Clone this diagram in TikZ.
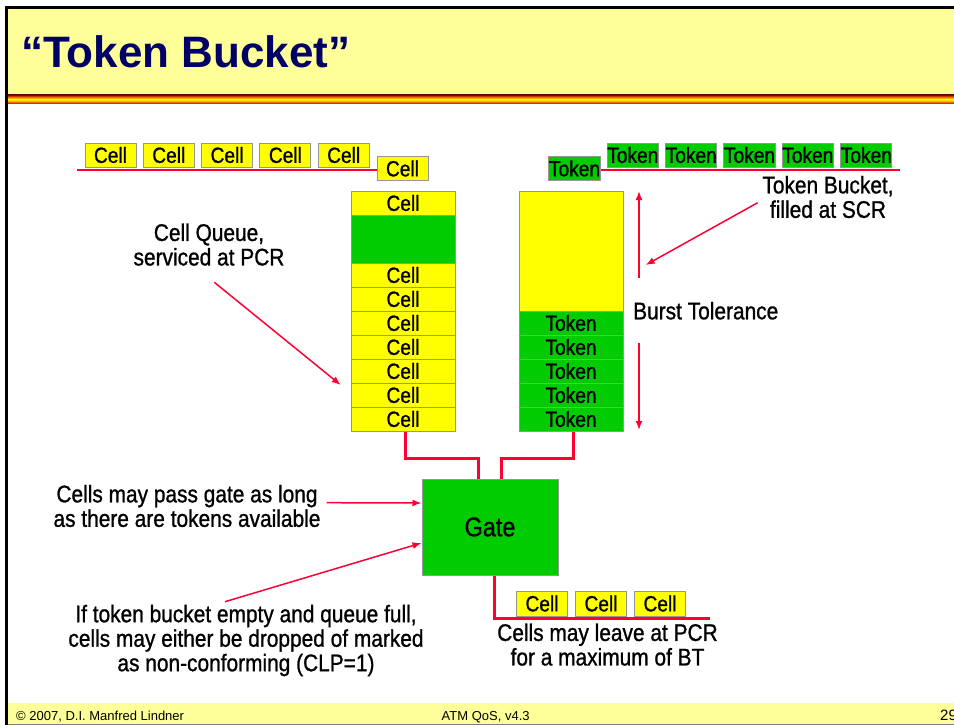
\documentclass[tikz,border=0pt]{standalone}
\usepackage{fontspec}
\setmainfont{Liberation Sans}
\newfontfamily\narrowfont[FakeStretch=0.87,FakeBold=1]{Liberation Sans}
\usetikzlibrary{arrows.meta}
\definecolor{amarelo}{RGB}{255,255,0}
\definecolor{verde}{RGB}{0,204,0}
\definecolor{vermelho}{RGB}{255,0,51}
\definecolor{palido}{RGB}{255,255,153}
\definecolor{marinho}{RGB}{0,0,102}
\definecolor{borda}{RGB}{150,150,150}
\definecolor{escuro}{RGB}{150,0,0}

\begin{document}
\begin{tikzpicture}[x=1pt,y=-1pt,
    cel/.style={draw=borda,fill=amarelo,line width=1pt,inner sep=0pt,minimum width=51pt,minimum height=24pt,font=\narrowfont\fontsize{22}{22}\selectfont},
    tok/.style={cel,fill=verde},
    fila/.style={cel,minimum width=104pt},
    balde/.style={fila,fill=verde},
    txt/.style={align=center,inner sep=0pt,font=\narrowfont\fontsize{24}{24.5}\selectfont},
    linha/.style={draw=vermelho,line width=3pt},
    seta/.style={draw=vermelho,line width=1.5pt,-{Latex[length=9pt,width=7pt]}}]
        \useasboundingbox (0,0) rectangle (954,725);
        % Moldura do slide
        \fill[palido] (8,9.5) rectangle (954,95);
        \shade[top color=escuro,bottom color=amarelo,middle color=orange] (8,95) rectangle (954,99.5);
        \shade[top color=amarelo,bottom color=escuro,middle color=orange] (8,99.5) rectangle (954,104);
        \fill[palido] (8,703) rectangle (954,725);
        \draw[gray,line width=1pt] (8,724.5) -- (954,724.5);
        \draw[line width=3pt] (5,8) -- (954,8);
        \draw[line width=3pt] (6.5,6.5) -- (6.5,725);
        \node[anchor=base west,inner sep=0pt,text=marinho,font=\bfseries\fontsize{44}{44}\selectfont] (titulo) at (21,68) {“Token Bucket”};
        \node[anchor=base west,inner sep=0pt,font=\fontsize{13}{13}\selectfont] (autor) at (16,720) {© 2007, D.I. Manfred Lindner};
        \node[anchor=base west,inner sep=0pt,font=\fontsize{13}{13}\selectfont] (versao) at (441.5,720) {ATM QoS, v4.3};
        \node[anchor=base west,inner sep=0pt,font=\fontsize{15}{15}\selectfont] (pagina) at (940,720) {29};
        % Celulas chegando
        \draw[linha,line width=2.5pt] (77,170) -- (377,170);
        \node[cel] (c1) at (110.5,155) {Cell};
        \node[cel] (c2) at (168.8,155) {Cell};
        \node[cel] (c3) at (227.1,155) {Cell};
        \node[cel] (c4) at (285.4,155) {Cell};
        \node[cel] (c5) at (343.7,155) {Cell};
        \node[cel] (c6) at (402.5,168.5) {Cell};
        % Fichas chegando
        \draw[linha,line width=2.5pt] (600,170) -- (900,170);
        \node[tok] (k1) at (574.5,168.5) {Token};
        \node[tok] (k2) at (632.8,155) {Token};
        \node[tok] (k3) at (691.2,155) {Token};
        \node[tok] (k4) at (749.5,155) {Token};
        \node[tok] (k5) at (807.8,155) {Token};
        \node[tok] (k6) at (866.3,155) {Token};
        % Fila de celulas
        \node[fila] (q1) at (403,203) {Cell};
        \node[balde,minimum height=48pt] (q2) at (403,239) {};
        \node[fila] (q3) at (403,275) {Cell};
        \node[fila] (q4) at (403,299) {Cell};
        \node[fila] (q5) at (403,323) {Cell};
        \node[fila] (q6) at (403,347) {Cell};
        \node[fila] (q7) at (403,371) {Cell};
        \node[fila] (q8) at (403,395) {Cell};
        \node[fila] (q9) at (403,419) {Cell};
        % Balde de fichas
        \node[fila,minimum height=120pt] (b0) at (571,251) {};
        \node[balde] (t1) at (571,323) {Token};
        \node[balde] (t2) at (571,347) {Token};
        \node[balde] (t3) at (571,371) {Token};
        \node[balde] (t4) at (571,395) {Token};
        \node[balde] (t5) at (571,419) {Token};
        % Portao
        \node[draw=borda,fill=verde,line width=1pt,minimum width=136pt,minimum height=96pt,font=\narrowfont\fontsize{27}{27}\selectfont] (gate) at (490,527) {Gate};
        \draw[linha] ([xshift=2.5pt]q9.south) -- ++(0,27) -| ([xshift=-12pt]gate.north);
        \draw[linha] ([xshift=2pt]t5.south) -- ++(0,27) -| ([xshift=11pt]gate.north);
        \coordinate (saida) at (710,618);
        \draw[linha] ([xshift=4pt]gate.south) |- (saida);
        \node[cel,minimum height=25pt] (o1) at (542,603.5) {Cell};
        \node[cel,minimum height=25pt] (o2) at (601,603.5) {Cell};
        \node[cel,minimum height=25pt] (o3) at (660,603.5) {Cell};
        % Textos
        \node[txt] (fila) at (209,244.6) {Cell Queue,\\serviced at PCR};
        \node[txt] (balde) at (828,197) {Token Bucket,\\filled at SCR};
        \node[txt,anchor=base west] (burst) at (633,319.3) {Burst Tolerance};
        \node[txt] (passa) at (187,506) {Cells may pass gate as long\\as there are tokens available};
        \node[txt] (vazio) at (246,640.5) {If token bucket empty and queue full,\\cells may either be dropped of marked\\as non-conforming (CLP=1)};
        \node[txt] (sai) at (607.5,644.6) {Cells may leave at PCR\\for a maximum of BT};
        % Setas
        \coordinate (btA) at (639,278);
        \coordinate (btB) at (639,191);
        \coordinate (btC) at (639,343);
        \coordinate (btD) at (639,430);
        \draw[seta] (btA) -- (btB);
        \draw[seta] (btC) -- (btD);
        \coordinate (s1) at (757.7,202.7);
        \coordinate (s2) at (645.7,265);
        \draw[seta] (s1) -- (s2);
        \coordinate (s3) at (214.3,282.3);
        \coordinate (s4) at (340.7,385);
        \draw[seta] (s3) -- (s4);
        \coordinate (s5) at (326.7,502.7);
        \draw[seta] (s5) -- ([yshift=24pt]gate.west);
        \coordinate (s6) at (225,601.7);
        \draw[seta] (s6) -- ([yshift=-16pt]gate.west);
    \end{tikzpicture}
\end{document}
